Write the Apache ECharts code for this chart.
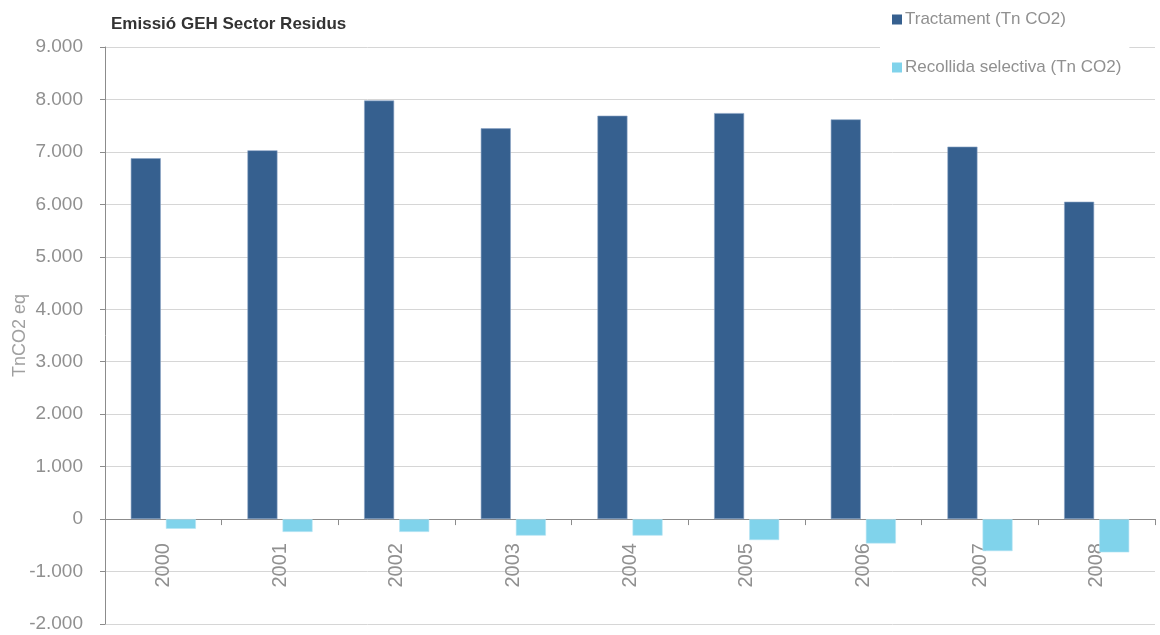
<!DOCTYPE html>
<html>
<head>
<meta charset="utf-8">
<script src="https://cdn.jsdelivr.net/npm/echarts@6/dist/echarts.min.js"></script>
<style>
html,body{margin:0;padding:0;background:#fff;}
#chart{width:1160px;height:635px;}
</style>
</head>
<body>
<div id="chart"></div>
<script>
const titleText = 'Emissió GEH Sector Residus';
const yAxisName = 'TnCO2 eq';
const categories = ['2000','2001','2002','2003','2004','2005','2006','2007','2008'];
const seriesNames = ['Tractament (Tn CO2)', 'Recollida selectiva (Tn CO2)'];
const tractament = [6880, 7030, 7980, 7450, 7690, 7740, 7620, 7100, 6050];
const recollida = [-185, -245, -245, -315, -315, -400, -465, -610, -635];
const yMin = -2000, yMax = 9000, yStep = 1000;

function fmt(v){
  const s = Math.abs(v).toString().replace(/\B(?=(\d{3})+(?!\d))/g, '.');
  return (v < 0 ? '-' : '') + s;
}

const gridTop = 47, gridBottom = 11, H = 635;
const plotH = H - gridTop - gridBottom;
// move the category axis from the grid bottom up to the zero line
const zeroOffset = -plotH * (0 - yMin) / (yMax - yMin);

const chart = echarts.init(document.getElementById('chart'), null, {renderer:'canvas'});
chart.setOption({
  animation: false,
  backgroundColor: '#fff',
  textStyle: {fontFamily: 'Liberation Sans, Arial, sans-serif'},
  title: {
    text: titleText,
    left: 106, top: 11,
    textStyle: {fontSize: 17, fontWeight: 'bold', color: '#333', fontFamily: 'Liberation Sans, Arial, sans-serif'}
  },
  legend: {
    orient: 'vertical',
    left: 880, top: 3,
    padding: [8, 8, 8, 12],
    backgroundColor: '#fff',
    itemWidth: 10, itemHeight: 10,
    itemGap: 31,
    icon: 'rect',
    itemStyle: {borderWidth: 0},
    textStyle: {fontSize: 17, color: '#909090', padding: [0,0,0,-2]},
    data: seriesNames
  },
  grid: {left: 105, right: 5, top: gridTop, bottom: gridBottom, containLabel: false, outerBoundsMode: 'none'},
  xAxis: {
    type: 'category',
    data: categories,
    position: 'bottom',
    offset: zeroOffset,
    axisLine: {onZero: false, lineStyle: {color: '#8c8c8c', width: 1}},
    axisTick: {show: true, length: 6, lineStyle: {color: '#8c8c8c'}},
    axisLabel: {rotate: 90, margin: 24, fontSize: 20, color: '#909090'},
    splitLine: {show: false}
  },
  yAxis: {
    type: 'value',
    min: yMin, max: yMax, interval: yStep,
    name: yAxisName,
    nameLocation: 'middle',
    nameGap: 76,
    nameRotate: 90,
    nameMoveOverlap: false,
    nameTextStyle: {fontSize: 18, color: '#a0a0a0'},
    axisLine: {show: true, lineStyle: {color: '#8c8c8c'}},
    axisTick: {show: true, length: 5, lineStyle: {color: '#8c8c8c'}},
    axisLabel: {fontSize: 19, color: '#909090', margin: 22, formatter: fmt},
    splitLine: {show: true, lineStyle: {color: '#d6d6d6', width: 1}}
  },
  series: [
    {
      name: seriesNames[0], type: 'bar', data: tractament,
      barWidth: 30, barGap: '17%',
      itemStyle: {color: '#36608f', borderColor: '#8aa3c4', borderWidth: 0.6}
    },
    {
      name: seriesNames[1], type: 'bar', data: recollida,
      barWidth: 30, barGap: '17%',
      itemStyle: {color: '#80d3eb', borderColor: '#b5e4f3', borderWidth: 0.6}
    }
  ]
});
</script>
</body>
</html>
